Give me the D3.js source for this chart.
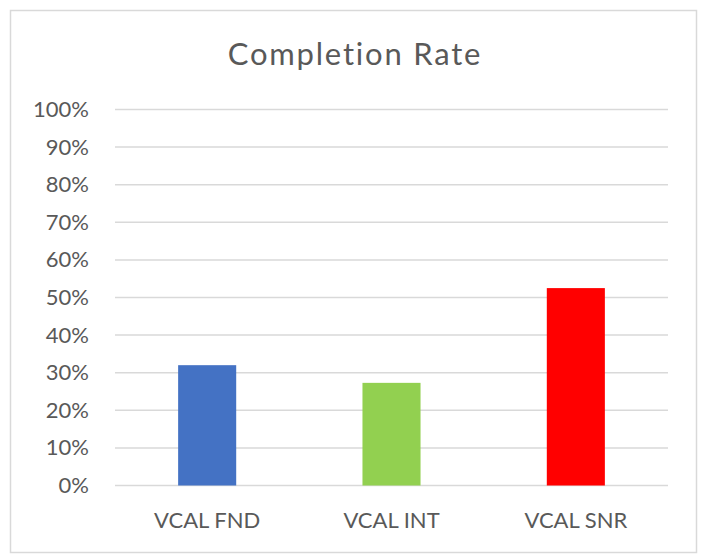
<!DOCTYPE html>
<html>
<head>
<meta charset="utf-8">
<script src="https://cdn.jsdelivr.net/npm/d3@7"></script>
<style>
  body { margin: 0; background: #fff; }
  text { font-family: Lato, "Open Sans", sans-serif; fill: #595959; }
</style>
</head>
<body>
<div class="canvas"></div>
<script>
const categories = ['VCAL FND', 'VCAL INT', 'VCAL SNR']
const rates = [0.32, 0.273, 0.525]
const colors = ['#4472C4', '#92D050', '#FF0000']
const yTicks = [0, 0.1, 0.2, 0.3, 0.4, 0.5, 0.6, 0.7, 0.8, 0.9, 1]

const width = 712
const height = 558

const svg = d3.select('.canvas').append('svg')
    .attr('width', width)
    .attr('height', height)

// chart border
svg.append('rect')
    .attr('x', 10.5)
    .attr('y', 10.5)
    .attr('width', 686)
    .attr('height', 542)
    .attr('fill', '#fff')
    .attr('stroke', '#d9d9d9')
    .attr('stroke-width', 1.5)

const margin = { top: 109.5, right: 44, bottom: 72.5, left: 115 }
const graphWidth = width - margin.left - margin.right
const graphHeight = height - margin.top - margin.bottom

const graph = svg.append('g')
    .attr('transform', `translate(${margin.left}, ${margin.top})`)

const y = d3.scaleLinear()
    .domain([0, 1])
    .range([graphHeight, 0])

const x = d3.scaleBand()
    .domain(categories)
    .range([0, graphWidth])
    .paddingInner(0.685)
    .paddingOuter(0.685 / 2)

// gridlines
graph.selectAll('line.grid')
    .data(yTicks)
    .enter()
    .append('line')
    .attr('class', 'grid')
    .attr('x1', 0)
    .attr('x2', graphWidth)
    .attr('y1', d => y(d))
    .attr('y2', d => y(d))
    .attr('stroke', '#d9d9d9')
    .attr('stroke-width', 1.5)

// y axis labels
const yAxis = d3.axisLeft(y)
    .tickValues(yTicks)
    .tickFormat(d3.format('.0%'))
    .tickSize(0)
    .tickPadding(26)

graph.append('g')
    .call(yAxis)
    .call(g => g.select('.domain').remove())
    .selectAll('text')
    .attr('font-size', 22)
    .attr('fill', '#595959')
    .style('font-family', 'Lato, sans-serif')

// bars
graph.selectAll('rect.bar')
    .data(rates)
    .enter()
    .append('rect')
    .attr('class', 'bar')
    .attr('x', (d, i) => x(categories[i]))
    .attr('width', x.bandwidth())
    .attr('y', d => y(d))
    .attr('height', d => graphHeight - y(d))
    .attr('fill', (d, i) => colors[i])

// x axis labels
const xAxis = d3.axisBottom(x)
    .tickSize(0)
    .tickPadding(27)

graph.append('g')
    .attr('transform', `translate(0, ${graphHeight})`)
    .call(xAxis)
    .call(g => g.select('.domain').remove())
    .selectAll('text')
    .attr('font-size', 22)
    .attr('fill', '#595959')
    .style('font-family', 'Lato, sans-serif')

// title
svg.append('text')
    .attr('x', 355)
    .attr('y', 65)
    .attr('text-anchor', 'middle')
    .attr('font-size', 31)
    .style('letter-spacing', '1.8px')
    .text('Completion Rate')
</script>
</body>
</html>
